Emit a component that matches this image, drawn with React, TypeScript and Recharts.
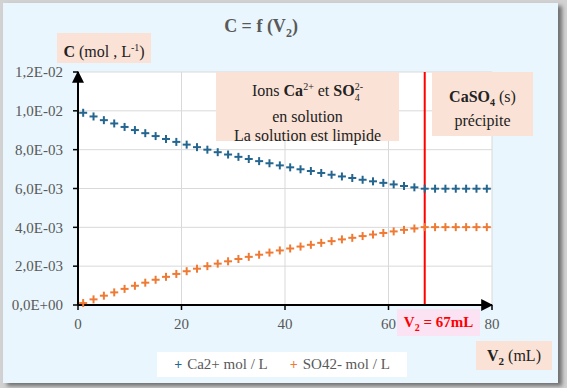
import React from "react"
import { ScatterChart, Scatter, XAxis, YAxis, CartesianGrid, ReferenceLine, Legend } from "recharts"

// volumes V2 (mL)
const volumes = [1, 3, 5, 7, 9, 11, 13, 15, 17, 19, 21, 23, 25, 27, 29, 31, 33, 35, 37, 39, 41, 43, 45, 47, 49, 51, 53, 55, 57, 59, 61, 63, 65, 67, 69, 71, 73, 75, 77, 79]

// [Ca2+] en mol/L
const caValues = [
  0.0099, 0.00971, 0.00952, 0.00935, 0.00917, 0.00901, 0.00885, 0.0087, 0.00855, 0.0084,
  0.00826, 0.00813, 0.008, 0.00787, 0.00775, 0.00763, 0.00752, 0.00741, 0.0073, 0.00719,
  0.00709, 0.00699, 0.0069, 0.0068, 0.00671, 0.00662, 0.00654, 0.00645, 0.00637, 0.00629,
  0.00621, 0.00613, 0.00606, 0.00599, 0.00599, 0.00599, 0.00599, 0.00599, 0.00599, 0.00599,
]

// [SO4 2-] en mol/L
const so4Values = [
  0.0001, 0.00029, 0.00048, 0.00065, 0.00083, 0.00099, 0.00115, 0.0013, 0.00145, 0.0016,
  0.00174, 0.00187, 0.002, 0.00213, 0.00225, 0.00237, 0.00248, 0.00259, 0.0027, 0.00281,
  0.00291, 0.00301, 0.0031, 0.0032, 0.00329, 0.00338, 0.00346, 0.00355, 0.00363, 0.00371,
  0.00379, 0.00387, 0.00394, 0.00401, 0.00401, 0.00401, 0.00401, 0.00401, 0.00401, 0.00401,
]

const xTicks = [0, 20, 40, 60, 80]
const yTicks = [0, 0.002, 0.004, 0.006, 0.008, 0.01, 0.012]
const xMinorTicks = Array.from({ length: 81 }, (_, i) => i)
const yMinorTicks = Array.from({ length: 31 }, (_, i) => i * 0.0004)

const V_EQ = 67

const BLUE = "#24668f"
const ORANGE = "#ef7a33"
const PEACH = "#fbe2d6"
const GREY_TEXT = "#595959"
const SERIF = '"Liberation Serif", Tinos, "Times New Roman", "DejaVu Serif", serif'

const caData = volumes.map((v, i) => ({ v, c: caValues[i] }))
const so4Data = volumes.map((v, i) => ({ v, c: so4Values[i] }))

const fmtSci = (value: number) => {
  const [m, e] = value.toExponential(1).split("e")
  const n = parseInt(e, 10)
  return m.replace(".", ",") + "E" + (n < 0 ? "-" : "+") + String(Math.abs(n)).padStart(2, "0")
}

const plusShape = (color: string) => (props: any) => {
  const { cx, cy } = props
  return (
    <g>
      <line x1={cx - 4} y1={cy} x2={cx + 4} y2={cy} stroke={color} strokeWidth={2} />
      <line x1={cx} y1={cy - 4} x2={cx} y2={cy + 4} stroke={color} strokeWidth={2} />
    </g>
  )
}

const tickStyle = { fill: GREY_TEXT, fontSize: 15, fontFamily: SERIF }

function LegendBox() {
  const items = [
    { name: "Ca2+ mol / L", color: BLUE },
    { name: "SO42- mol / L", color: ORANGE },
  ]
  return (
    <div
      style={{
        background: "#fff",
        width: 250,
        height: 25,
        display: "flex",
        alignItems: "center",
        justifyContent: "center",
        gap: 22,
        fontFamily: SERIF,
        fontSize: 15,
        color: GREY_TEXT,
      }}
    >
      {items.map((it) => (
        <span key={it.name} style={{ display: "flex", alignItems: "center" }}>
          <span style={{ color: it.color, fontWeight: "bold", marginRight: 5, fontSize: 14 }}>+</span>
          {it.name}
        </span>
      ))}
    </div>
  )
}

const box = (extra: React.CSSProperties): React.CSSProperties => ({
  position: "absolute",
  background: PEACH,
  fontFamily: SERIF,
  color: "#222",
  textAlign: "center",
  boxSizing: "border-box",
  ...extra,
})

export default function App() {
  return (
    <div style={{ position: "fixed", left: 0, top: 0, width: 567, height: 388, background: "#d2d2d2", overflow: "hidden", fontFamily: SERIF }}>
      <div
        style={{
          position: "absolute",
          left: 3,
          top: 3,
          width: 555,
          height: 380,
          background: "#e9f6fd",
          boxShadow: "4px 3px 4px #707070",
        }}
      />
      <div style={{ position: "absolute", left: 0, top: 0 }}>
        <ScatterChart width={567} height={388} margin={{ top: 72, right: 75, bottom: 53, left: 8 }}>
          <defs>
            <marker id="arrowHead" viewBox="0 0 10 10" refX="9" refY="5" markerWidth="6" markerHeight="6" orient="auto-start-reverse">
              <path d="M0,0 L10,5 L0,10 z" fill="#000" />
            </marker>
          </defs>
          <CartesianGrid stroke="#d9d9d9" fill="#fff" />
          <XAxis
            type="number"
            dataKey="v"
            domain={[0, 80]}
            ticks={xTicks}
            height={30}
            tickSize={5}
            tickMargin={8}
            tick={tickStyle}
            tickLine={{ stroke: "#000", strokeWidth: 1.5 }}
            axisLine={{ stroke: "#000", strokeWidth: 2, markerEnd: "url(#arrowHead)" }}
          />
          <XAxis
            xAxisId="minor"
            type="number"
            domain={[0, 80]}
            ticks={xMinorTicks}
            interval={0}
            mirror
            tick={false}
            tickSize={3}
            tickLine={{ stroke: "#000", strokeWidth: 1 }}
            axisLine={false}
          />
          <YAxis
            type="number"
            dataKey="c"
            domain={[0, 0.012]}
            ticks={yTicks}
            width={70}
            tickSize={5}
            tickMargin={10}
            tickFormatter={fmtSci}
            tick={tickStyle}
            tickLine={{ stroke: "#000", strokeWidth: 1.5 }}
            axisLine={{ stroke: "#000", strokeWidth: 2, markerStart: "url(#arrowHead)" }}
          />
          <YAxis
            yAxisId="minor"
            type="number"
            domain={[0, 0.012]}
            ticks={yMinorTicks}
            interval={0}
            mirror
            tick={false}
            tickSize={4}
            tickLine={{ stroke: "#000", strokeWidth: 1 }}
            axisLine={false}
          />
          <ReferenceLine x={V_EQ} stroke="#ff0000" strokeWidth={2} />
          <Scatter name="Ca2+ mol / L" data={caData} fill={BLUE} shape={plusShape(BLUE)} isAnimationActive={false} />
          <Scatter name="SO42- mol / L" data={so4Data} fill={ORANGE} shape={plusShape(ORANGE)} isAnimationActive={false} />
          <Legend
            layout="horizontal"
            verticalAlign="middle"
            align="center"
            content={() => <LegendBox />}
            wrapperStyle={{ left: 157, top: 352, width: 250, height: 25 }}
          />
        </ScatterChart>
      </div>

      {/* titre */}
      <div
        style={{
          position: "absolute",
          left: 200,
          top: 16,
          width: 122,
          textAlign: "center",
          fontFamily: SERIF,
          fontWeight: "bold",
          fontSize: 18,
          color: GREY_TEXT,
        }}
      >
        C = f (V<sub style={{ fontSize: 12 }}>2</sub>)
      </div>

      {/* label axe Y */}
      <div style={box({ left: 57, top: 33, width: 94, height: 30, fontSize: 16, lineHeight: "30px" })}>
        <b>C</b> (mol , L<sup style={{ fontSize: 10 }}>-1</sup>)
      </div>

      {/* ions en solution */}
      <div style={box({ left: 216, top: 72, width: 183, height: 69, fontSize: 16, lineHeight: "19px", paddingTop: 5 })}>
        Ions <b>Ca</b>
        <sup style={{ fontSize: 10 }}>2+</sup> et <b>SO</b>
        <sub style={{ fontSize: 10 }}>4</sub>
        <sup style={{ fontSize: 10, marginLeft: -5 }}>2-</sup>
        <br />
        en solution
        <br />
        La solution est limpide
      </div>

      {/* précipité */}
      <div style={box({ left: 432, top: 72, width: 101, height: 64, fontSize: 16, lineHeight: "18px", paddingTop: 16 })}>
        <b>
          CaSO<sub style={{ fontSize: 10 }}>4</sub>
        </b>{" "}
        (s)
        <br />
        précipite
      </div>

      {/* V2 = 67 mL */}
      <div
        style={box({
          left: 397,
          top: 309,
          width: 83,
          height: 27,
          background: "#fce3f4",
          color: "#ff0000",
          fontWeight: "bold",
          fontSize: 15,
          lineHeight: "27px",
        })}
      >
        V<sub style={{ fontSize: 10 }}>2</sub> = 67mL
      </div>

      {/* label axe X */}
      <div style={box({ left: 476, top: 341, width: 76, height: 29, fontSize: 16, lineHeight: "29px" })}>
        <b>
          V<sub style={{ fontSize: 11 }}>2</sub>
        </b>{" "}
        (mL)
      </div>
    </div>
  )
}
